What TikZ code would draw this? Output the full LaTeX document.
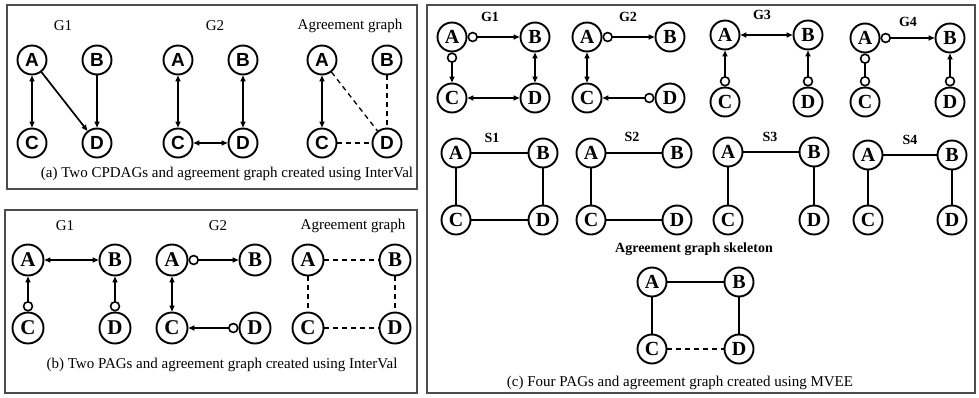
\documentclass[tikz,border=0pt]{standalone}
\usepackage{fontspec}
\setmainfont{Liberation Serif}
\newfontfamily\arialf{Liberation Sans}
\usetikzlibrary{arrows.meta}
\tikzset{
  frame/.style={draw=black!70, line width=1.1pt},
  nsa/.style={circle, draw, line width=1.9pt, minimum size=29pt, inner sep=0pt, font=\arialf\bfseries\fontsize{19}{19}\selectfont},
  nsb/.style={circle, draw, line width=1.9pt, minimum size=31pt, inner sep=0pt, font=\bfseries\fontsize{21}{21}\selectfont},
  nsc/.style={circle, draw, line width=1.9pt, minimum size=29pt, inner sep=0pt, font=\bfseries\fontsize{20}{20}\selectfont},
  ttl/.style={font=\fontsize{15}{15}\selectfont},
  ttlc/.style={font=\bfseries\fontsize{14}{14}\selectfont},
  captxt/.style={font=\fontsize{15}{15}\selectfont},
  ed/.style={line width=1.7pt},
  dd/.style={line width=1.3pt, dash pattern=on 5pt off 4pt},
  bi/.style={ed, {Triangle[length=6pt,width=5pt]}-{Triangle[length=6pt,width=5pt]}},
  ar/.style={ed, -{Triangle[length=6pt,width=5pt]}},
  oa/.style={ed, {Circle[open,length=10.5pt,width=10.5pt,line width=1.6pt]}-{Triangle[length=6pt,width=5pt]}},
  oo/.style={ed, {Circle[open,length=10.5pt,width=10.5pt,line width=1.6pt]}-{Circle[open,length=10.5pt,width=10.5pt,line width=1.6pt]}}
}
\begin{document}
\begin{tikzpicture}[x=1pt,y=-1pt]
\useasboundingbox (0,0) rectangle (979,397);
\fill[white] (0,0) rectangle (979,397);
% frames
\draw[frame] (7,5) rectangle (417,189);
\draw[frame] (5,210) rectangle (417,393);
\draw[frame] (427,5) rectangle (975,393);

% ---------- panel (a)
\node[ttl] (ta1) at (63,26) {G1};
\node[ttl] (ta2) at (215,26) {G2};
\node[ttl] (ta3) at (350,26) {Agreement graph};
\node[captxt] (capa) at (227,174) {(a) Two CPDAGs and agreement graph created using InterVal};
\node[nsa] (a1A) at (32,60) {A};
\node[nsa] (a1B) at (97,60) {B};
\node[nsa] (a1C) at (32,143) {C};
\node[nsa] (a1D) at (97,143) {D};
\draw[bi] (a1A) -- (a1C);
\draw[ar] (a1A) -- (a1D);
\draw[ar] (a1B) -- (a1D);
\node[nsa] (a2A) at (178,60) {A};
\node[nsa] (a2B) at (243,60) {B};
\node[nsa] (a2C) at (178,143) {C};
\node[nsa] (a2D) at (243,143) {D};
\draw[bi] (a2A) -- (a2C);
\draw[bi] (a2B) -- (a2D);
\draw[bi] (a2C) -- (a2D);
\node[nsa] (a3A) at (322,60) {A};
\node[nsa] (a3B) at (387,60) {B};
\node[nsa] (a3C) at (322,143) {C};
\node[nsa] (a3D) at (387,143) {D};
\draw[bi] (a3A) -- (a3C);
\draw[dd] (a3A) -- (a3D);
\draw[dd] (a3B) -- (a3D);
\draw[dd] (a3C) -- (a3D);

% ---------- panel (b)
\node[ttl] (tb1) at (65,226) {G1};
\node[ttl] (tb2) at (218,226) {G2};
\node[ttl] (tb3) at (353,226) {Agreement graph};
\node[captxt] (capb) at (222,365) {(b) Two PAGs and agreement graph created using InterVal};
\node[nsb] (b1A) at (28,260) {A};
\node[nsb] (b1B) at (115,260) {B};
\node[nsb] (b1C) at (28,328) {C};
\node[nsb] (b1D) at (115,328) {D};
\draw[bi] (b1A) -- (b1B);
\draw[oa] (b1C) -- (b1A);
\draw[oa] (b1D) -- (b1B);
\node[nsb] (b2A) at (172,260) {A};
\node[nsb] (b2B) at (255,260) {B};
\node[nsb] (b2C) at (172,328) {C};
\node[nsb] (b2D) at (255,328) {D};
\draw[oa] (b2A) -- (b2B);
\draw[bi] (b2A) -- (b2C);
\draw[oa] (b2D) -- (b2C);
\node[nsb] (b3A) at (308,260) {A};
\node[nsb] (b3B) at (395,260) {B};
\node[nsb] (b3C) at (308,328) {C};
\node[nsb] (b3D) at (395,328) {D};
\draw[dd] (b3A) -- (b3B);
\draw[dd] (b3A) -- (b3C);
\draw[dd] (b3B) -- (b3D);
\draw[dd] (b3C) -- (b3D);

% ---------- panel (c)
\node[ttlc] (tc1) at (490,17) {G1};
\node[ttlc] (tc2) at (628,17) {G2};
\node[ttlc] (tc3) at (762,15) {G3};
\node[ttlc] (tc4) at (908,22) {G4};
\node[ttlc] (ts1) at (492,138) {S1};
\node[ttlc] (ts2) at (632,137) {S2};
\node[ttlc] (ts3) at (770,137) {S3};
\node[ttlc] (ts4) at (910,140) {S4};
\node[ttlc] (tsk) at (694,249) {Agreement graph skeleton};
\node[captxt] (capc) at (680,383) {(c) Four PAGs and agreement graph created using MVEE};
% G1
\node[nsc] (g1A) at (452,37) {A};
\node[nsc] (g1B) at (535,37) {B};
\node[nsc] (g1C) at (452,98) {C};
\node[nsc] (g1D) at (535,98) {D};
\draw[oa] (g1A) -- (g1B);
\draw[oa] (g1A) -- (g1C);
\draw[bi] (g1B) -- (g1D);
\draw[bi] (g1C) -- (g1D);
% G2
\node[nsc] (g2A) at (587,37) {A};
\node[nsc] (g2B) at (670,37) {B};
\node[nsc] (g2C) at (587,98) {C};
\node[nsc] (g2D) at (670,98) {D};
\draw[oa] (g2A) -- (g2B);
\draw[bi] (g2A) -- (g2C);
\draw[oa] (g2D) -- (g2C);
% G3
\node[nsc] (g3A) at (725,35) {A};
\node[nsc] (g3B) at (808,35) {B};
\node[nsc] (g3C) at (725,102) {C};
\node[nsc] (g3D) at (808,102) {D};
\draw[bi] (g3A) -- (g3B);
\draw[oa] (g3C) -- (g3A);
\draw[oa] (g3D) -- (g3B);
% G4
\node[nsc] (g4A) at (865,38) {A};
\node[nsc] (g4B) at (950,38) {B};
\node[nsc] (g4C) at (865,102) {C};
\node[nsc] (g4D) at (950,102) {D};
\draw[oa] (g4A) -- (g4B);
\draw[oo] (g4A) -- (g4C);
\draw[oa] (g4D) -- (g4B);
% S1
\node[nsc] (s1A) at (456,153) {A};
\node[nsc] (s1B) at (543,153) {B};
\node[nsc] (s1C) at (456,220) {C};
\node[nsc] (s1D) at (543,220) {D};
\draw[ed] (s1A) -- (s1B);
\draw[ed] (s1A) -- (s1C);
\draw[ed] (s1B) -- (s1D);
\draw[ed] (s1C) -- (s1D);
% S2
\node[nsc] (s2A) at (591,153) {A};
\node[nsc] (s2B) at (677,153) {B};
\node[nsc] (s2C) at (591,220) {C};
\node[nsc] (s2D) at (677,220) {D};
\draw[ed] (s2A) -- (s2B);
\draw[ed] (s2A) -- (s2C);
\draw[ed] (s2C) -- (s2D);
% S3
\node[nsc] (s3A) at (728,152) {A};
\node[nsc] (s3B) at (814,152) {B};
\node[nsc] (s3C) at (728,220) {C};
\node[nsc] (s3D) at (814,220) {D};
\draw[ed] (s3A) -- (s3B);
\draw[ed] (s3A) -- (s3C);
\draw[ed] (s3B) -- (s3D);
% S4
\node[nsc] (s4A) at (868,155) {A};
\node[nsc] (s4B) at (952,155) {B};
\node[nsc] (s4C) at (868,220) {C};
\node[nsc] (s4D) at (952,220) {D};
\draw[ed] (s4A) -- (s4B);
\draw[ed] (s4A) -- (s4C);
\draw[ed] (s4B) -- (s4D);
% Agreement
\node[nsc] (agA) at (652,282) {A};
\node[nsc] (agB) at (739,282) {B};
\node[nsc] (agC) at (652,349) {C};
\node[nsc] (agD) at (739,349) {D};
\draw[ed] (agA) -- (agB);
\draw[ed] (agA) -- (agC);
\draw[ed] (agB) -- (agD);
\draw[dd] (agC) -- (agD);
\end{tikzpicture}
\end{document}
